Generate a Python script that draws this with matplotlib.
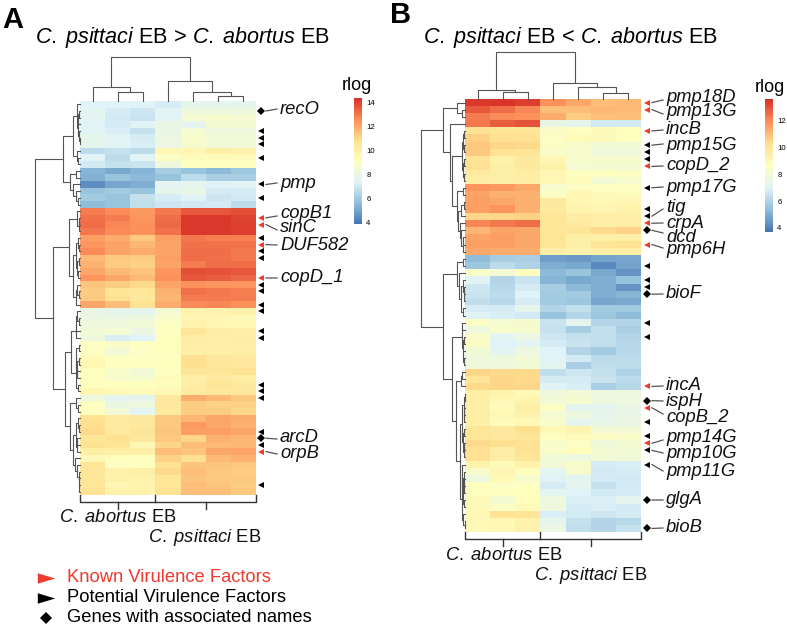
import numpy as np
import matplotlib
matplotlib.use('Agg')
import matplotlib.pyplot as plt
from matplotlib.colors import LinearSegmentedColormap, Normalize
from matplotlib.cm import ScalarMappable

plt.rcParams['font.family'] = 'Liberation Sans'
plt.rcParams['mathtext.fontset'] = 'custom'
plt.rcParams['mathtext.rm'] = 'Liberation Sans'
plt.rcParams['mathtext.it'] = 'Liberation Sans:italic'

# rlog values, panel A (rows top to bottom, 3 abortus + 4 psittaci columns)
heat_a = [
    [7.2, 7.2, 7.2, 7.0, 7.6, 7.6, 7.6],
    [7.4, 7.0, 6.8, 7.3, 8.0, 8.0, 8.0],
    [7.4, 6.9, 6.7, 7.3, 8.4, 8.5, 8.4],
    [7.2, 7.0, 7.3, 7.8, 7.5, 8.4, 8.4],
    [7.3, 7.1, 6.6, 7.8, 8.4, 8.0, 8.0],
    [7.6, 7.3, 7.0, 7.9, 8.6, 8.2, 8.2],
    [7.6, 7.3, 7.1, 7.9, 8.5, 8.2, 8.2],
    [6.4, 6.6, 6.4, 9.5, 9.5, 9.9, 9.7],
    [7.3, 6.4, 7.3, 8.8, 9.2, 9.2, 9.2],
    [6.9, 6.6, 6.7, 8.0, 9.0, 9.0, 9.0],
    [5.2, 4.9, 5.2, 5.9, 5.6, 5.3, 5.7],
    [5.1, 5.6, 5.3, 5.6, 6.4, 6.0, 5.9],
    [4.2, 4.8, 5.0, 7.4, 7.5, 7.2, 7.3],
    [5.6, 5.8, 5.6, 7.6, 7.8, 7.0, 7.0],
    [5.8, 5.6, 6.6, 7.0, 7.3, 6.8, 6.9],
    [5.4, 5.6, 6.5, 6.8, 6.9, 7.0, 6.4],
    [12.9, 12.6, 12.3, 13.0, 13.6, 13.6, 13.8],
    [13.1, 12.9, 12.4, 13.2, 14.2, 14.2, 14.0],
    [13.2, 12.7, 12.5, 13.3, 14.2, 14.2, 14.1],
    [13.0, 12.6, 12.5, 13.1, 14.2, 14.2, 14.1],
    [12.2, 11.9, 11.3, 12.2, 13.0, 12.8, 12.8],
    [12.4, 12.1, 11.7, 12.1, 13.1, 13.1, 13.1],
    [12.6, 12.1, 11.9, 12.1, 13.2, 13.2, 13.0],
    [11.6, 11.3, 11.2, 12.2, 13.2, 13.1, 13.0],
    [11.8, 11.2, 11.1, 12.1, 12.9, 13.2, 13.2],
    [12.0, 11.6, 11.4, 12.4, 13.8, 13.7, 13.6],
    [12.4, 12.0, 11.6, 12.5, 13.6, 13.5, 13.3],
    [11.4, 11.2, 10.9, 12.1, 12.5, 12.4, 12.4],
    [11.2, 10.5, 10.4, 11.8, 13.1, 13.0, 12.8],
    [11.3, 10.7, 10.3, 11.7, 12.9, 12.9, 12.9],
    [12.0, 11.5, 10.6, 11.9, 12.6, 12.7, 12.5],
    [7.8, 7.6, 7.6, 8.4, 9.6, 9.6, 9.8],
    [7.9, 7.9, 8.0, 8.6, 9.5, 9.4, 9.3],
    [8.1, 8.1, 8.2, 8.9, 9.7, 9.5, 9.4],
    [8.2, 8.4, 7.9, 9.0, 10.5, 10.0, 9.9],
    [8.0, 7.1, 7.2, 9.0, 10.0, 9.9, 10.0],
    [8.9, 8.7, 8.9, 9.1, 10.0, 10.0, 10.0],
    [8.9, 8.3, 8.8, 9.0, 9.9, 9.9, 9.9],
    [9.3, 8.9, 8.9, 9.0, 10.8, 10.3, 10.2],
    [9.5, 9.0, 9.0, 9.1, 10.8, 10.4, 10.3],
    [9.0, 8.6, 8.2, 9.0, 10.4, 10.5, 10.6],
    [9.1, 8.6, 8.5, 9.2, 9.9, 10.1, 10.0],
    [9.0, 9.0, 9.0, 9.1, 10.0, 10.4, 10.2],
    [9.5, 9.3, 9.2, 9.4, 10.1, 10.3, 10.3],
    [8.0, 7.5, 7.5, 10.3, 11.9, 11.6, 11.3],
    [8.9, 7.9, 8.0, 10.3, 11.2, 11.1, 11.1],
    [9.0, 8.2, 7.4, 10.2, 11.2, 11.2, 11.0],
    [10.6, 10.2, 10.2, 11.3, 11.7, 12.0, 11.9],
    [10.8, 10.1, 10.3, 11.3, 12.3, 12.0, 11.8],
    [10.9, 10.2, 10.4, 11.4, 12.2, 12.2, 12.0],
    [10.4, 10.6, 10.3, 11.3, 11.0, 11.8, 11.7],
    [10.7, 10.4, 9.4, 11.0, 11.5, 11.6, 11.7],
    [9.9, 9.9, 9.9, 11.5, 11.4, 12.0, 12.1],
    [9.3, 9.1, 9.0, 11.1, 10.7, 11.6, 11.8],
    [10.5, 8.8, 9.0, 10.7, 11.4, 11.4, 11.3],
    [10.5, 9.7, 9.9, 10.9, 11.5, 11.3, 11.2],
    [10.4, 9.8, 9.7, 10.5, 11.4, 11.3, 11.3],
    [10.4, 9.5, 9.6, 10.5, 11.5, 11.4, 11.2],
    [10.6, 9.7, 9.7, 10.6, 11.5, 11.5, 11.3],
]

# rlog values, panel B
heat_b = [
    [14.2, 14.3, 14.1, 12.5, 12.0, 11.5, 11.6],
    [13.6, 13.2, 12.7, 11.5, 11.5, 11.7, 11.6],
    [12.9, 12.6, 12.5, 11.9, 11.2, 11.5, 11.5],
    [13.0, 13.5, 13.7, 7.8, 7.6, 6.9, 6.9],
    [10.6, 10.4, 10.4, 8.7, 9.0, 9.2, 9.1],
    [11.1, 10.7, 10.7, 8.8, 9.2, 9.2, 9.0],
    [11.3, 11.0, 10.9, 8.8, 8.6, 8.2, 8.2],
    [11.3, 10.6, 10.4, 8.7, 8.5, 8.1, 8.1],
    [10.6, 9.8, 10.2, 9.5, 8.6, 8.5, 8.5],
    [10.7, 9.9, 10.2, 9.8, 8.4, 8.4, 8.4],
    [10.1, 9.9, 10.0, 9.5, 9.0, 9.0, 8.8],
    [10.0, 9.9, 10.0, 9.4, 9.2, 8.3, 8.5],
    [12.4, 12.3, 12.0, 8.5, 8.8, 8.9, 8.9],
    [12.1, 11.8, 11.8, 8.8, 9.5, 9.2, 9.2],
    [12.2, 12.0, 11.8, 10.2, 9.4, 9.3, 9.5],
    [12.2, 12.4, 11.8, 10.2, 9.6, 9.5, 9.8],
    [11.0, 11.0, 11.1, 10.4, 10.0, 10.0, 9.9],
    [12.7, 13.0, 13.2, 10.4, 10.1, 9.9, 10.0],
    [11.7, 12.1, 12.0, 10.4, 10.4, 10.9, 11.1],
    [12.1, 12.2, 12.0, 10.4, 9.9, 9.9, 9.9],
    [12.2, 12.2, 12.0, 10.4, 9.9, 10.5, 10.6],
    [12.0, 11.9, 11.9, 9.9, 9.7, 9.9, 9.9],
    [5.4, 5.9, 6.0, 4.6, 4.5, 4.7, 4.8],
    [5.7, 6.4, 6.1, 5.0, 4.9, 4.1, 4.7],
    [8.7, 8.4, 9.0, 5.3, 5.6, 4.9, 4.4],
    [7.3, 6.2, 6.7, 5.2, 4.9, 5.0, 5.5],
    [6.8, 6.3, 7.0, 5.9, 5.3, 5.0, 4.4],
    [6.7, 6.4, 7.2, 5.8, 5.8, 5.0, 5.2],
    [6.5, 6.3, 7.0, 5.8, 5.7, 4.8, 4.9],
    [7.0, 7.0, 7.6, 6.2, 6.5, 5.8, 5.8],
    [7.3, 7.1, 6.9, 5.6, 6.2, 5.7, 5.4],
    [8.8, 8.4, 8.5, 6.7, 7.5, 6.2, 6.2],
    [8.0, 8.6, 8.5, 6.6, 5.9, 6.5, 6.0],
    [8.7, 7.4, 7.9, 6.8, 6.6, 6.5, 6.2],
    [8.8, 7.2, 7.4, 7.0, 6.7, 6.5, 6.3],
    [8.3, 7.4, 8.0, 7.2, 6.2, 5.8, 6.3],
    [8.1, 8.0, 8.2, 7.2, 6.9, 6.4, 6.4],
    [8.1, 8.1, 8.2, 7.4, 6.0, 6.5, 6.4],
    [11.0, 10.9, 10.9, 6.5, 6.8, 6.6, 6.1],
    [10.5, 11.0, 10.9, 7.0, 7.0, 6.7, 6.4],
    [10.9, 11.0, 11.0, 7.3, 7.1, 6.0, 6.3],
    [9.9, 9.6, 9.3, 8.1, 8.2, 8.0, 8.0],
    [9.9, 9.4, 9.6, 8.2, 8.5, 8.0, 8.0],
    [9.9, 9.2, 9.9, 8.8, 7.5, 7.5, 7.8],
    [9.9, 9.4, 9.7, 8.4, 8.0, 7.6, 7.8],
    [9.9, 9.2, 9.4, 8.6, 7.6, 7.7, 7.9],
    [10.4, 10.3, 10.8, 9.3, 9.6, 8.2, 8.3],
    [10.5, 10.3, 10.5, 9.0, 9.2, 8.8, 8.7],
    [10.9, 10.8, 10.6, 8.6, 8.8, 8.1, 8.4],
    [10.7, 10.0, 10.6, 8.6, 9.1, 8.4, 8.3],
    [10.7, 10.0, 10.4, 8.2, 8.0, 8.3, 8.2],
    [9.7, 9.2, 9.7, 8.2, 8.6, 7.0, 7.1],
    [8.5, 9.5, 9.1, 7.4, 8.5, 6.9, 7.0],
    [8.0, 9.3, 8.5, 7.3, 7.4, 6.9, 6.9],
    [9.0, 8.8, 8.9, 7.0, 7.5, 6.6, 6.9],
    [9.0, 9.0, 9.1, 7.4, 7.2, 6.9, 7.0],
    [9.2, 8.4, 9.1, 8.0, 7.1, 7.1, 7.5],
    [9.2, 8.8, 9.3, 8.0, 7.0, 7.1, 6.9],
    [9.4, 10.6, 10.4, 7.1, 6.9, 6.8, 7.0],
    [9.3, 9.4, 9.7, 7.6, 6.6, 6.2, 6.3],
    [9.3, 9.4, 9.7, 7.9, 6.5, 6.2, 6.6],
]

# marked rows
known_a = [17, 18, 21, 26, 52]
potential_a = [4, 5, 6, 8, 12, 14, 20, 22, 23, 27, 28, 30, 31, 34, 35, 42, 43, 44, 49, 51, 57]
named_a = [1, 50]
known_b = [0, 1, 4, 9, 17, 20, 40, 43, 48]
potential_b = [6, 7, 8, 12, 15, 16, 23, 25, 26, 31, 33, 45, 47, 49, 51]
named_b = [18, 27, 42, 56, 60]

# gene labels: name, row the connector starts at, label centre y (px), connector end y (px)
genes_a = [('recO', 1, 109, 109), ('pmp', 12, 183, 183), ('copB1', 17, 214, 216),
           ('sinC', 18, 228, 230), ('DUF582', 21, 246, 245), ('copD_1', 26, 278, 278),
           ('arcD', 50, 438, 439), ('orpB', 52, 453, 454)]
genes_b = [('pmp18D', 0, 97, 100), ('pmp13G', 1, 112, 114), ('incB', 4, 130, 130),
           ('pmp15G', 6, 146, 144), ('copD_2', 9, 166, 166), ('pmp17G', 12, 187, 187),
           ('tig', 16, 208, 209), ('crpA', 17, 223, 223), ('dcd', 18, 237, 233),
           ('pmp6H', 20, 249, 248), ('bioF', 27, 294, 294), ('incA', 40, 386, 386),
           ('ispH', 42, 401, 401), ('copB_2', 43, 417, 414), ('pmp14G', 48, 437, 440),
           ('pmp10G', 49, 453, 453), ('pmp11G', 51, 471, 471), ('glgA', 56, 499, 500),
           ('bioB', 60, 528, 528)]

# dendrograms: [merge height, left, right]; int = leaf; (first, last, height) = block of rows
cols_tree_a = [44, [14, 0, [9, 1, 2]], [20, 3, [9, 4, [5, 5, 6]]]]
cols_tree_b = [47, [9, 0, [7, 1, 2]], [16, 3, [12, 4, [6, 5, 6]]]]
rows_tree_a = [45, [17, (0, 9, 7), (10, 15, 10)],
               [27, (16, 30, 11), [15, (31, 43, 9), [10, (44, 46, 4), (47, 58, 7)]]]]
rows_tree_b = [44, [22, (0, 2, 8), [15, 3, [13, (4, 11, 3), (12, 21, 8)]]],
               [22, (22, 30, 8), [13, (31, 37, 3), [9, (38, 40, 4), (41, 60, 5)]]]]

colorbar_ticks = [4, 6, 8, 10, 12, 14]
colorbar_ticks_b = [4, 6, 8, 10, 12]
legend_labels = ['Known Virulence Factors', 'Potential Virulence Factors', 'Genes with associated names']

RED = '#EE3A2F'
LINE = '#555555'
W, H = 787, 627

cmap = LinearSegmentedColormap.from_list(
    'rdylbu', ['#4575B4', '#91BFDB', '#E0F3F8', '#FFFFBF', '#FEE090', '#FC8D59', '#D73027'])

fig = plt.figure(figsize=(W / 100, H / 100), dpi=100)


def px_axes(x0, y0, x1, y1):
    return fig.add_axes([x0 / W, 1 - y1 / H, (x1 - x0) / W, (y1 - y0) / H])


over = px_axes(0, 0, W, H)
over.set_xlim(0, W)
over.set_ylim(H, 0)
over.axis('off')
over.set_zorder(5)


def auto_block(mat, a, b, top):
    # adjacent-only complete linkage, keeps the row order of the heatmap
    nodes = [(i, 0.0, [i]) for i in range(a, b + 1)]
    while len(nodes) > 1:
        dist = [max(np.linalg.norm(mat[p] - mat[q]) for p in nodes[k][2] for q in nodes[k + 1][2])
                for k in range(len(nodes) - 1)]
        k = int(np.argmin(dist))
        d = max(dist[k], nodes[k][1], nodes[k + 1][1])
        nodes[k:k + 2] = [([d, nodes[k][0], nodes[k + 1][0]], d, nodes[k][2] + nodes[k + 1][2])]
    root = nodes[0][0]
    scale = top / root[0]

    def rescale(n):
        if isinstance(n, int):
            return n
        return [n[0] * scale, rescale(n[1]), rescale(n[2])]
    return rescale(root)


def draw_tree(node, mat, pos, base, vertical):
    # returns (centre, height) of the node
    if isinstance(node, int):
        return pos(node), 0
    if isinstance(node, tuple):
        node = auto_block(mat, *node)
    h, left, right = node
    c1, h1 = draw_tree(left, mat, pos, base, vertical)
    c2, h2 = draw_tree(right, mat, pos, base, vertical)
    if vertical:
        over.plot([c1, c1, c2, c2], [base - h1, base - h, base - h, base - h2], color=LINE, lw=0.8)
    else:
        over.plot([base - h1, base - h, base - h, base - h2], [c1, c1, c2, c2], color=LINE, lw=0.8)
    return (c1 + c2) / 2, h


def panel(values, box, rows_tree, cols_tree, known, potential, named, genes, mark_x):
    mat = np.array(values)
    x0, y0, x1, y1 = box
    n_rows, n_cols = mat.shape
    row_y = lambda i: y0 + (i + 0.5) * (y1 - y0) / n_rows
    col_x = lambda j: x0 + (j + 0.5) * (x1 - x0) / n_cols

    ax = px_axes(*box)
    ax.imshow(mat, cmap=cmap, vmin=3.6, vmax=14.4, aspect='auto', interpolation='nearest')
    ax.axis('off')

    draw_tree(rows_tree, mat, row_y, x0, False)
    draw_tree(cols_tree, mat, col_x, y0, True)

    over.plot([mark_x] * len(known), [row_y(i) for i in known], ls='', marker='<', ms=4.5, color=RED, mew=0)
    over.plot([mark_x] * len(potential), [row_y(i) for i in potential], ls='', marker='<', ms=4.5, color='black', mew=0)
    over.plot([mark_x] * len(named), [row_y(i) for i in named], ls='', marker='D', ms=4, color='black', mew=0)

    for name, row, label_y, line_y in genes:
        over.plot([mark_x + 5, mark_x + 16], [row_y(row), line_y], color=LINE, lw=0.9)
        over.text(mark_x + 19, label_y, name, style='italic', fontsize=13.2, va='center', ha='left', color='#111111')

    # group bracket under the columns
    split = x0 + 3 * (x1 - x0) / n_cols
    bottom = y1 + 7
    over.plot([x0, x0, x1, x1], [y1, bottom, bottom, y1], color='#333333', lw=1)
    over.plot([split, split], [y1, bottom], color='#333333', lw=1)
    for t in [(x0 + split) / 2, (split + x1) / 2]:
        over.plot([t, t], [bottom, bottom + 7], color='#333333', lw=1)


panel(heat_a, (80, 101, 256, 495), rows_tree_a, cols_tree_a,
      known_a, potential_a, named_a, genes_a, 261)
panel(heat_b, (465, 99, 641, 532), rows_tree_b, cols_tree_b,
      known_b, potential_b, named_b, genes_b, 647)


def colorbar(box, vmin, vmax, ticks):
    cax = px_axes(*box)
    cb = fig.colorbar(ScalarMappable(Normalize(vmin, vmax), cmap), cax=cax)
    cb.outline.set_visible(False)
    cb.set_ticks(ticks)
    cb.ax.tick_params(length=0, labelsize=5.6, pad=3)


colorbar((354, 98, 362, 224), 3.9, 14.4, colorbar_ticks)
colorbar((765, 99, 773, 232), 3.7, 13.6, colorbar_ticks_b)
over.text(357, 85, 'rlog', fontsize=13, ha='center', va='center')
over.text(770, 88, 'rlog', fontsize=13, ha='center', va='center')

# titles and panel letters
over.text(183, 38, r'$\mathit{C.\;psittaci}$ EB > $\mathit{C.\;abortus}$ EB', fontsize=15.6, ha='center', va='center')
over.text(571, 38, r'$\mathit{C.\;psittaci}$ EB < $\mathit{C.\;abortus}$ EB', fontsize=15.6, ha='center', va='center')
over.text(2, 20, 'A', fontsize=21, fontweight='bold', ha='left', va='center')
over.text(390, 15, 'B', fontsize=21, fontweight='bold', ha='left', va='center')

# group names
over.text(118, 518, r'$\mathit{C.\;abortus}$ EB', fontsize=13.2, ha='center', va='center', color='#111111')
over.text(205, 537, r'$\mathit{C.\;psittaci}$ EB', fontsize=13.2, ha='center', va='center', color='#111111')
over.text(504, 556, r'$\mathit{C.\;abortus}$ EB', fontsize=13.2, ha='center', va='center', color='#111111')
over.text(591, 575, r'$\mathit{C.\;psittaci}$ EB', fontsize=13.2, ha='center', va='center', color='#111111')

# legend
wide_arrow = [(-1, -0.6), (1, 0), (-1, 0.6), (-1, -0.6)]
over.plot([46], [578], ls='', marker=wide_arrow, ms=12.5, color=RED, mew=0)
over.plot([46], [598], ls='', marker=wide_arrow, ms=12.5, color='black', mew=0)
over.plot([46], [618], ls='', marker='D', ms=6.6, color='black', mew=0)
for y, label, c in zip([578, 598, 618], legend_labels, [RED, 'black', 'black']):
    over.text(67, y, label, fontsize=13.2, ha='left', va='center', color=c)

fig.savefig('out.png', dpi=100)
